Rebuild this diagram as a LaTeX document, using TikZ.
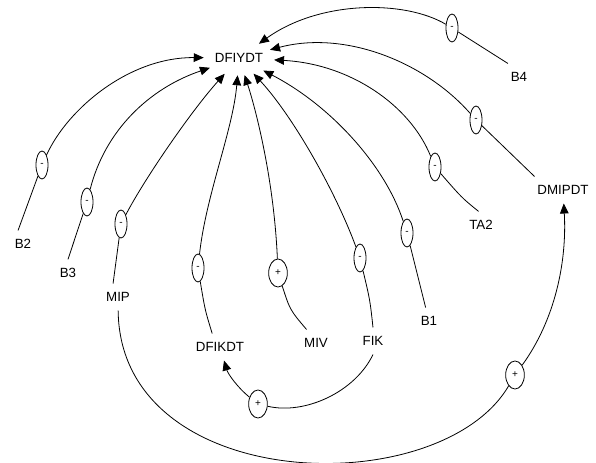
\documentclass[tikz,border=0pt]{standalone}
\usepackage{fontspec}
\setmainfont{Liberation Sans}
\usetikzlibrary{arrows.meta,shapes.geometric}
\begin{document}
\begin{tikzpicture}[x=0.75pt,y=-0.75pt,
  lbl/.style={font=\fontsize{10}{12}\selectfont, inner xsep=2pt, inner ysep=6.5pt},
  hub/.style={ellipse, font=\fontsize{10}{12}\selectfont, inner sep=0pt, minimum width=52.5pt, minimum height=25.5pt},
  minusmark/.style={draw, ellipse, line width=0.6pt, minimum width=9pt, minimum height=21pt, inner sep=0pt, font=\fontsize{7.5}{8}\selectfont},
  plusmark/.style={minusmark, minimum width=14pt},
  link/.style={line width=0.6pt},
  arr/.style={link, -{Triangle[length=7.5pt,width=6.5pt]}}]
\useasboundingbox (0,0) rectangle (596,463);

% variables
\node[hub] (d) at (239,58) {DFIYDT};
\node[lbl] (b2) at (23,244) {B2};
\node[lbl] (b3) at (68,273) {B3};
\node[lbl] (mip) at (118,297) {MIP};
\node[lbl] (dfk) at (220,347) {DFIKDT};
\node[lbl] (miv) at (316,343) {MIV};
\node[lbl] (fik) at (373,341) {FIK};
\node[lbl] (b1) at (429,321) {B1};
\node[lbl] (ta2) at (481,225) {TA2};
\node[lbl] (dm) at (563,190) {DMIPDT};
\node[lbl] (b4) at (519,77) {B4};

% polarity markers
\node[minusmark] (m1) at (42,165) {-};
\node[minusmark] (m2) at (87,202) {-};
\node[minusmark] (m3) at (121,224) {-};
\node[minusmark] (m4) at (198,268) {-};
\node[plusmark] (m5) at (278,273) {+};
\node[minusmark] (m6) at (360,258) {-};
\node[minusmark] (m7) at (407,233) {-};
\node[minusmark] (m8) at (435,167) {-};
\node[minusmark] (m9) at (476,120) {-};
\node[minusmark] (m10) at (452,28) {-};
\node[plusmark] (m11) at (515,375) {+};
\node[plusmark] (m12) at (258,404) {+};

% B2
\draw[link] (b2.110) -- (m1);
\draw[arr] (m1) .. controls (68,108) and (130,57) .. (d);
% B3
\draw[link] (b3.north) -- (m2);
\draw[arr] (m2) .. controls (105,130) and (150,88) .. (d);
% MIP
\draw[link] (mip.110) -- (m3);
\draw[arr] (m3) .. controls (145,178) and (192,110) .. (d);
% DFIKDT
\draw[link] (dfk.120) .. controls (205,310) .. (m4);
\draw[arr] (m4) .. controls (206,195) and (233,130) .. (d);
% MIV
\draw[link] (miv.125) .. controls (290,310) .. (m5);
\draw[arr] (m5) .. controls (274,180) and (256,110) .. (d);
% FIK
\draw[link] (fik.north) .. controls (370,300) .. (m6);
\draw[arr] (m6) .. controls (335,190) and (292,115) .. (d);
% B1
\draw[link] (b1) -- (m7);
\draw[arr] (m7) .. controls (385,165) and (330,105) .. (d);
% TA2
\draw[link] (ta2.100) .. controls (462,198) .. (m8);
\draw[arr] (m8) .. controls (410,105) and (350,64) .. (d);
% DMIPDT
\draw[link] (dm.north west) -- (m9);
\draw[arr] (m9) .. controls (425,62) and (345,30) .. (d);
% B4
\draw[link] (b4.north west) -- (m10);
\draw[arr] (m10) .. controls (405,0) and (320,0) .. (d);
% MIP -> DMIPDT
\draw[link] (mip) .. controls (120,495) and (440,503) .. (m11);
\draw[arr] (m11) .. controls (555,320) and (567,262) .. (dm);
% FIK -> DFIKDT
\draw[link] (fik.south) .. controls (355,392) and (305,415) .. (m12);
\draw[arr] (m12) .. controls (238,388) and (228,374) .. (dfk);
\end{tikzpicture}
\end{document}
